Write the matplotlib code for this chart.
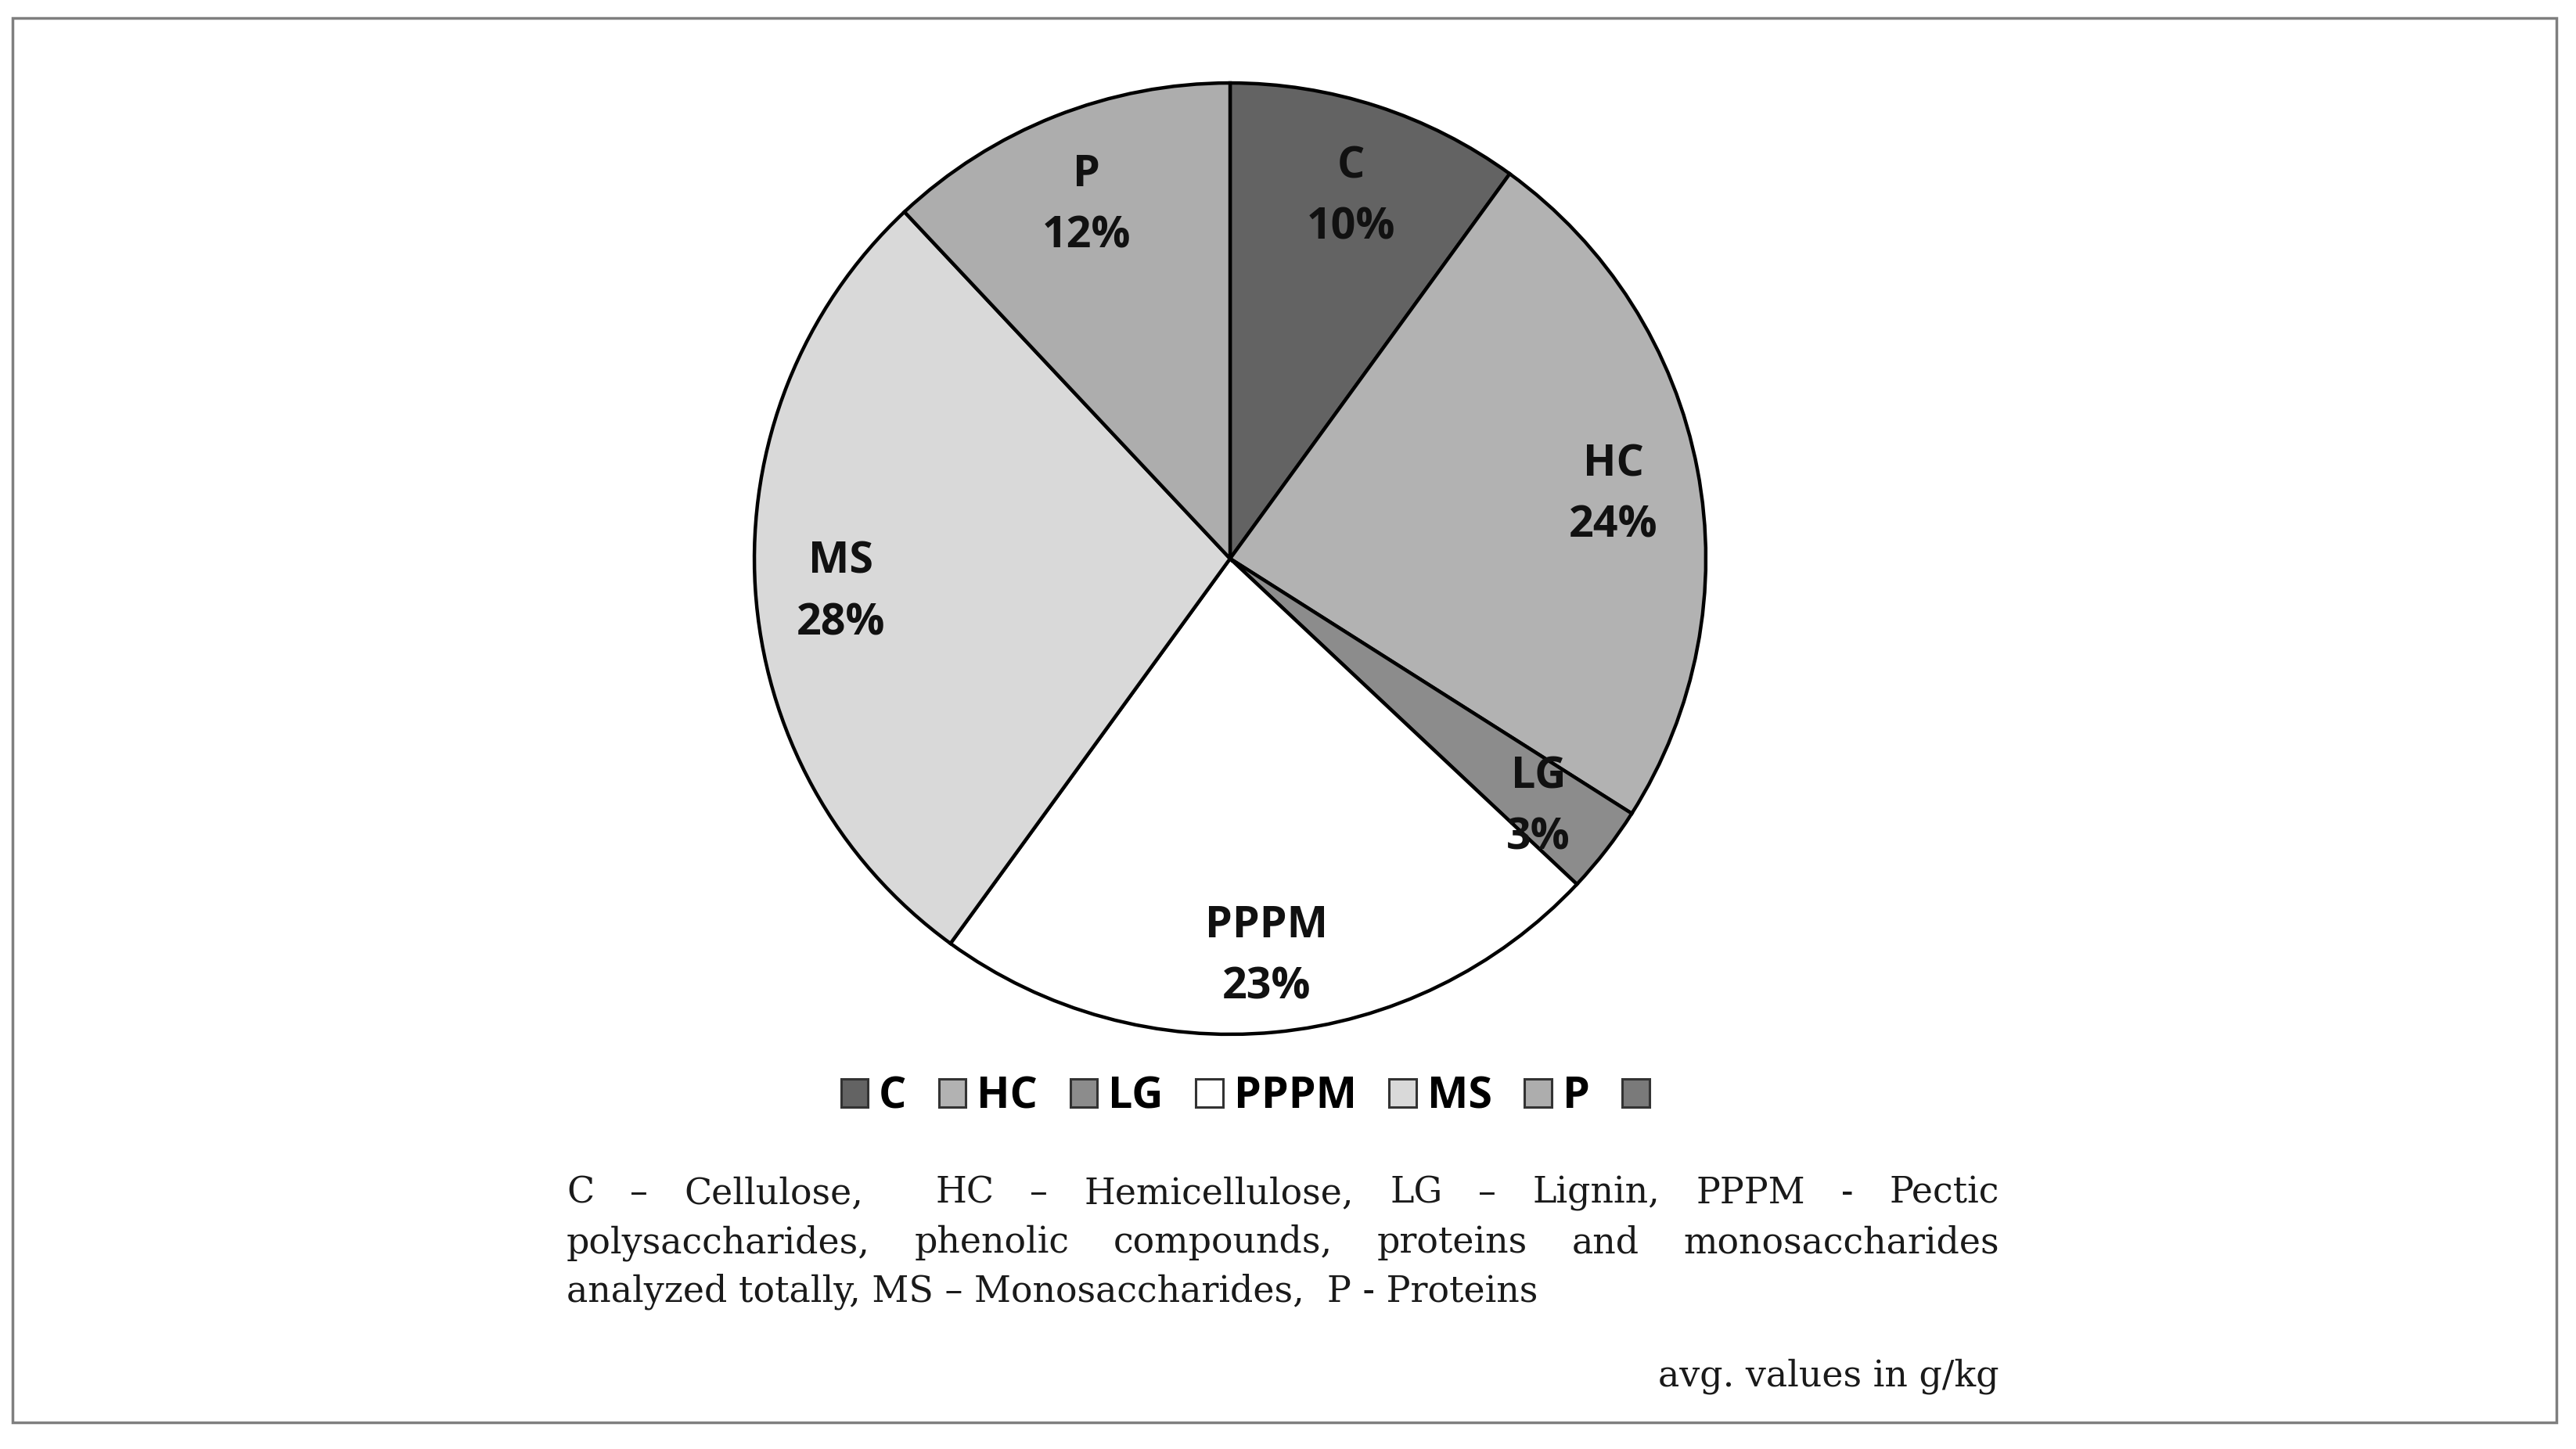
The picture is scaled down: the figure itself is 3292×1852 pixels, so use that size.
import matplotlib
matplotlib.use("Agg")
import matplotlib.pyplot as plt
from matplotlib.patches import Rectangle, Patch

# data (percent shares)
labels = ["C", "HC", "LG", "PPPM", "MS", "P"]
values = [10, 24, 3, 23, 28, 12]
colors = ["#636363", "#b2b2b2", "#8c8c8c", "#ffffff", "#d9d9d9", "#adadad"]
extra_color = "#7a7a7a"   # unlabeled 7th legend entry

caption_line1 = ["C", "–", "Cellulose,", "HC", "–", "Hemicellulose,", "LG", "–", "Lignin,", "PPPM", "-", "Pectic"]
caption_gaps1 = [1, 1, 2, 1, 1, 1, 1, 1, 1, 1, 1]
caption_line2 = ["polysaccharides,", "phenolic", "compounds,", "proteins", "and", "monosaccharides"]
caption_line3 = "analyzed totally, MS – Monosaccharides,  P - Proteins"
units_note = "avg. values in g/kg"

W, H = 3292, 1852
fig = plt.figure(figsize=(W / 100, H / 100), dpi=100)
fig.patch.set_facecolor("white")

# outer frame
fig.add_artist(Rectangle((16 / W, 1 - 1818 / H), (3267 - 16) / W, (1818 - 23) / H,
                         transform=fig.transFigure, fill=False, edgecolor="#7f7f7f", linewidth=2.5))

# pie
cx, cy, r = 1572, 714, 611
ax = fig.add_axes([(cx - r) / W, 1 - (cy + r) / H, 2 * r / W, 2 * r / H])
wedges, texts, autotexts = ax.pie(values, colors=colors, startangle=90, counterclock=False,
                                  radius=1, autopct="%d%%", pctdistance=0.82,
                                  wedgeprops=dict(edgecolor="black", linewidth=3.2))
for t, lab, v in zip(autotexts, labels, values):
    t.set_text(f"{lab}\n{v}%")
    t.set_fontsize(40)
    t.set_fontweight("bold")
    t.set_fontfamily("Open Sans")
    t.set_color("#111111")
    t.set_linespacing(1.55)
    px, py = t.get_position()
    t.set_position((px, py - 0.02))
ax.set_xlim(-1.005, 1.005)
ax.set_ylim(-1.005, 1.005)
ax.set_aspect("auto")
ax.axis("off")

# legend
handles = [Patch(facecolor=c, edgecolor="#333333", linewidth=2.2) for c in colors]
handles.append(Patch(facecolor=extra_color, edgecolor="#333333", linewidth=2.2))
leg_labels = labels + [""]
fig.legend(handles, leg_labels, loc="center", bbox_to_anchor=(1598 / W, 1 - 1402 / H), ncol=7,
           frameon=False, handlelength=0.62, handleheight=0.62, handletextpad=0.25,
           columnspacing=0.75, prop=dict(family="Open Sans", weight="bold", size=40))

# caption, justified
cap_font = dict(family="DejaVu Serif", size=33, color="#1a1a1a")
x_left, x_right = 724, 2555
fig.canvas.draw()
renderer = fig.canvas.get_renderer()


def justify(words, gaps, y):
    arts = [fig.text(0, 1 - y / H, w, va="baseline", ha="left", **cap_font) for w in words]
    widths = [a.get_window_extent(renderer).width for a in arts]
    unit = (x_right - x_left - sum(widths)) / sum(gaps)
    x = x_left
    for i, a in enumerate(arts):
        a.set_x(x / W)
        x += widths[i]
        if i < len(gaps):
            x += gaps[i] * unit


justify(caption_line1, caption_gaps1, 1538)
justify(caption_line2, [1] * (len(caption_line2) - 1), 1601)
fig.text(x_left / W, 1 - 1664 / H, caption_line3, va="baseline", ha="left", **cap_font)
fig.text(x_right / W, 1 - 1772 / H, units_note, va="baseline", ha="right", **cap_font)

fig.savefig("out.png", dpi=100, facecolor="white")
